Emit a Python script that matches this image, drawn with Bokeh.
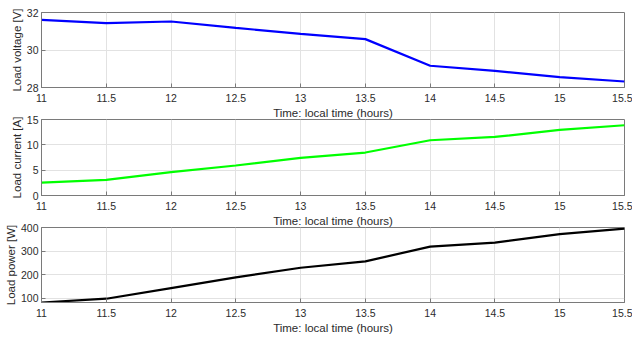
from bokeh.plotting import figure
from bokeh.layouts import column
from bokeh.models import Range1d, FixedTicker
from bokeh.embed import file_html
from bokeh.resources import INLINE

# ---- data ----
time_h = [11, 11.5, 12, 12.5, 13, 13.5, 14, 14.5, 15, 15.5]
load_voltage = [31.61, 31.43, 31.52, 31.18, 30.86, 30.58, 29.16, 28.89, 28.55, 28.32]
load_current = [2.56, 3.08, 4.60, 5.92, 7.42, 8.48, 10.90, 11.56, 12.94, 13.87]
load_power = [83, 99, 144, 189, 230, 257, 319, 336, 372, 395]

x_ticks = [11, 11.5, 12, 12.5, 13, 13.5, 14, 14.5, 15, 15.5]
x_tick_labels = ["11", "11.5", "12", "12.5", "13", "13.5", "14", "14.5", "15", "15.5"]
v_ticks = [28, 30, 32]
i_ticks = [0, 5, 10, 15]
p_ticks = [100, 200, 300, 400]

x_label = "Time: local time (hours)"

FONT = "Liberation Sans"
AXIS_COL = "#7a7a7a"
TEXT_COL = "#2b2b2b"
GRID_COL = "#e2e2e2"


def panel(y, color, ylabel, yrange, yticks, height, bottom, margin_top):
    p = figure(width=632, height=height, output_backend="svg", toolbar_location=None,
               x_range=Range1d(11, 15.5), y_range=Range1d(*yrange),
               min_border_left=41, min_border_right=8, min_border_top=12,
               min_border_bottom=bottom, margin=(margin_top, 0, 0, 0))
    p.line(time_h, y, line_width=2.2, color=color)
    p.outline_line_color = AXIS_COL
    p.outline_line_width = 1
    p.background_fill_color = "white"
    p.border_fill_alpha = 0

    p.xaxis.ticker = FixedTicker(ticks=x_ticks)
    p.xaxis.major_label_overrides = {t: l for t, l in zip(x_ticks, x_tick_labels)}
    p.yaxis.ticker = FixedTicker(ticks=yticks)
    p.xaxis.axis_label = x_label
    p.yaxis.axis_label = ylabel

    for ax in (p.xaxis[0], p.yaxis[0]):
        ax.axis_line_color = AXIS_COL
        ax.major_tick_line_color = AXIS_COL
        ax.major_tick_in = 4
        ax.major_tick_out = 0
        ax.minor_tick_line_color = None
        ax.major_label_text_font = FONT
        ax.major_label_text_font_size = "10.5px"
        ax.major_label_text_color = TEXT_COL
        ax.axis_label_text_font = FONT
        ax.axis_label_text_font_size = "11.5px"
        ax.axis_label_text_font_style = "normal"
        ax.axis_label_text_color = TEXT_COL
    p.xaxis.major_label_standoff = 6
    p.xaxis.axis_label_standoff = 2
    p.yaxis.major_label_standoff = 3
    p.yaxis.axis_label_standoff = 1

    p.xgrid.ticker = FixedTicker(ticks=x_ticks)
    p.ygrid.ticker = FixedTicker(ticks=yticks)
    p.grid.grid_line_color = GRID_COL
    p.grid.grid_line_width = 1
    return p


p1 = panel(load_voltage, "#0000ff", "Load voltage [V]", (28, 32), v_ticks, 123, 36, 0)
p2 = panel(load_current, "#00ff00", "Load current [A]", (0, 15), i_ticks, 124, 36, -16)
p3 = panel(load_power, "#000000", "Load power [W]", (83, 400), p_ticks, 122, 35, -16)

layout = column(p1, p2, p3, spacing=0)

open("out.html", "w").write(file_html(layout, INLINE))
